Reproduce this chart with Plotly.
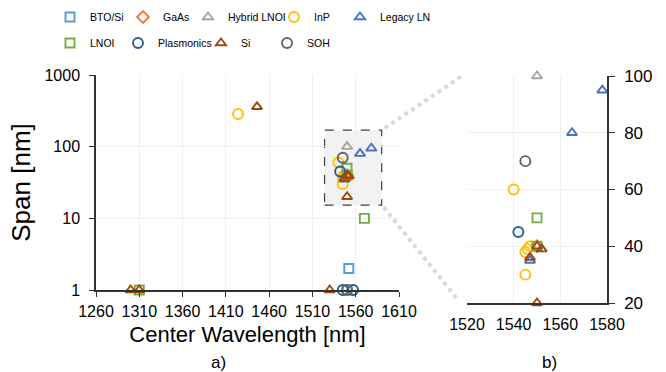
import math
import plotly.graph_objects as go

# ---------------- data ----------------
SERIES = ["BTO/Si", "GaAs", "Hybrid LNOI", "InP", "Legacy LN",
          "LNOI", "Plasmonics", "Si", "SOH"]
LEGEND_OF = ["legend", "legend", "legend", "legend", "legend3",
             "legend2", "legend2", "legend2", "legend2"]

bto_x = [1552]
bto_y = [2]
gaas_x = [1550]
gaas_y = [40]
hyb_x = [1550]
hyb_y = [100]
inp_x = [1424, 1540, 1547, 1545, 1546, 1545]
inp_y = [285, 60, 40, 38, 39, 30]
leg_x = [1578, 1565, 1547]
leg_y = [95, 80, 35]
lnoi_x = [1310, 1550, 1570, 1550, 1550]
lnoi_y = [1, 1, 10, 50, 40]
plas_x = [1545, 1557, 1542]
plas_y = [1, 1, 45]
si_x = [1300, 1310, 1446, 1530, 1550, 1552, 1547, 1550]
si_y = [1, 1, 360, 1, 40, 39, 36, 20]
soh_x = [1550, 1545]
soh_y = [1, 70]

DATA_X = [bto_x, gaas_x, hyb_x, inp_x, leg_x, lnoi_x, plas_x, si_x, soh_x]
DATA_Y = [bto_y, gaas_y, hyb_y, inp_y, leg_y, lnoi_y, plas_y, si_y, soh_y]

XTICKS_A = [1260, 1310, 1360, 1410, 1460, 1510, 1560, 1610]
YTICKS_A = [1, 10, 100, 1000]
XTICKS_B = [1520, 1540, 1560, 1580]
YTICKS_B = [20, 40, 60, 80, 100]
ZOOM_X = [1524, 1590]
ZOOM_Y = [15.3, 170]

# ---------------- styles ----------------
COLORS = ["#5B9BD5", "#ED7D31", "#A5A5A5", "#FFC000", "#4472C4",
          "#70AD47", "#255E91", "#9E480E", "#636363"]
SYMBOLS = ["square-open", "diamond-open", "triangle-up-open", "circle-open",
           "triangle-up-open", "square-open", "circle-open", "triangle-up-open",
           "circle-open"]
SIZES = [9, 9, 9, 10, 9, 9, 10, 9, 10]
# legend entry text widths (px) -> sets column pitch of the two legend rows
LEG_W = [28, 20, 41, 30, 60, 23, 38, 21, 25]

FONT = "Liberation Sans, Arial, sans-serif"
AX = "#333333"
GRID = "#f0f0f0"

W, H = 666, 372
ML, MR, MT, MB = 40, 59, 75, 69
PW, PH = W - ML - MR, H - MT - MB

xdomA = [(96 - ML) / PW, (399 - ML) / PW]
ydomA = [13 / PH, 1.0]
xdomB = [(467 - ML) / PW, 1.0]
ydomB = [0, 227 / PH]

fig = go.Figure()
for i, name in enumerate(SERIES):
    mk = dict(symbol=SYMBOLS[i], size=SIZES[i], color=COLORS[i],
              line=dict(width=1.9, color=COLORS[i]))
    fig.add_trace(go.Scatter(
        x=DATA_X[i], y=DATA_Y[i], mode="markers", name=name, marker=mk,
        xaxis="x", yaxis="y", cliponaxis=False, legendwidth=LEG_W[i],
        legend=LEGEND_OF[i], hoverinfo="x+y+name"))
for i, name in enumerate(SERIES):
    mk = dict(symbol=SYMBOLS[i], size=SIZES[i], color=COLORS[i],
              line=dict(width=1.9, color=COLORS[i]))
    xs, ys = [], []
    for a, b in zip(DATA_X[i], DATA_Y[i]):
        if XTICKS_B[0] <= a <= XTICKS_B[-1] and YTICKS_B[0] <= b <= YTICKS_B[-1]:
            xs.append(a)
            ys.append(b)
    fig.add_trace(go.Scatter(
        x=xs, y=ys, mode="markers", name=name, marker=mk, showlegend=False,
        xaxis="x2", yaxis="y2", cliponaxis=False, hoverinfo="x+y+name"))

tick_font = dict(family=FONT, size=16, color="#000")


# paper coordinates helpers for connector lines
def px_a(v):
    return xdomA[0] + (v - XTICKS_A[0]) / (XTICKS_A[-1] - XTICKS_A[0]) * (xdomA[1] - xdomA[0])


def py_a(v):
    return ydomA[0] + math.log10(v) / 3 * (ydomA[1] - ydomA[0])


def px_b(v):
    return xdomB[0] + (v - XTICKS_B[0]) / (XTICKS_B[-1] - XTICKS_B[0]) * (xdomB[1] - xdomB[0])


def py_b(v):
    return ydomB[0] + (v - YTICKS_B[0]) / (YTICKS_B[-1] - YTICKS_B[0]) * (ydomB[1] - ydomB[0])


shapes = [
    dict(type="rect", xref="x", yref="y", x0=ZOOM_X[0], x1=ZOOM_X[1],
         y0=ZOOM_Y[0], y1=ZOOM_Y[1], fillcolor="#f2f2f2",
         line=dict(color="#404040", width=1.2, dash="dash"), layer="below"),
    dict(type="line", xref="paper", yref="paper",
         x0=px_a(ZOOM_X[1]) + 3 / PW, y0=py_a(ZOOM_Y[1]) + 2 / PH,
         x1=px_b(XTICKS_B[0]) - 5 / PW, y1=py_b(YTICKS_B[-1]),
         line=dict(color="#d9d9d9", width=4, dash="dot")),
    dict(type="line", xref="paper", yref="paper",
         x0=px_a(ZOOM_X[1]) + 2 / PW, y0=py_a(ZOOM_Y[0]) - 2 / PH,
         x1=px_b(XTICKS_B[0]) - 9 / PW, y1=py_b(YTICKS_B[0]) + 3 / PH,
         line=dict(color="#d9d9d9", width=4, dash="dot")),
]

LEG_X0 = 50       # left edge of legend rows, px
LEG3_X0 = 340     # left edge of the "Legacy LN" entry, px
legend_common = dict(orientation="h", xanchor="left", yanchor="middle",
                     font=dict(family=FONT, size=10.5, color="#000"),
                     bgcolor="rgba(0,0,0,0)", borderwidth=0)

fig.update_layout(
    width=W, height=H,
    margin=dict(l=ML, r=MR, t=MT, b=MB, autoexpand=False),
    paper_bgcolor="white", plot_bgcolor="rgba(0,0,0,0)",
    font=dict(family=FONT, color="#000"),
    showlegend=True,
    legend=dict(legend_common, x=(LEG_X0 - ML) / PW, y=(PH + MT - 17) / PH),
    legend2=dict(legend_common, x=(LEG_X0 - ML) / PW, y=(PH + MT - 43) / PH),
    legend3=dict(legend_common, x=(LEG3_X0 - ML) / PW, y=(PH + MT - 17) / PH),
    xaxis=dict(domain=xdomA, anchor="y", range=[XTICKS_A[0], XTICKS_A[-1]],
               tickvals=XTICKS_A, ticks="outside", ticklen=5, tickwidth=1.3,
               tickcolor=AX, showline=True, linecolor=AX, linewidth=1.5,
               showgrid=True, gridcolor=GRID, zeroline=False, tickfont=tick_font,
               ticklabelstandoff=1,
               title=dict(text="Center Wavelength [nm]",
                          font=dict(family=FONT, size=22, color="#000"), standoff=8)),
    yaxis=dict(domain=ydomA, anchor="x", type="log", range=[0, 3],
               tickvals=YTICKS_A, ticktext=[str(v) for v in YTICKS_A],
               ticks="outside", ticklen=5, tickwidth=1.3, tickcolor=AX,
               showline=True, linecolor=AX, linewidth=1.5, showgrid=True,
               gridcolor=GRID, zeroline=False, tickfont=tick_font,
               ticklabelstandoff=6,
               title=dict(text="Span [nm]",
                          font=dict(family=FONT, size=26, color="#000"), standoff=6)),
    xaxis3=dict(overlaying="x", anchor="y", range=[XTICKS_A[0], XTICKS_A[-1]],
                tickvals=XTICKS_A, ticks="inside", ticklen=5, tickwidth=1.3,
                tickcolor=AX, showticklabels=False, showgrid=False,
                showline=False, zeroline=False),
    yaxis3=dict(overlaying="y", anchor="x", type="log", range=[0, 3],
                tickvals=YTICKS_A, ticks="inside", ticklen=5, tickwidth=1.3,
                tickcolor=AX, showticklabels=False, showgrid=False,
                showline=False, zeroline=False),
    xaxis2=dict(domain=xdomB, anchor="y2", range=[XTICKS_B[0], XTICKS_B[-1]],
                tickvals=XTICKS_B, ticks="", showline=True, linecolor=AX,
                linewidth=1.5, showgrid=True, gridcolor=GRID, zeroline=False,
                tickfont=tick_font, ticklabelstandoff=6),
    yaxis2=dict(domain=ydomB, anchor="x2", side="right",
                range=[YTICKS_B[0], YTICKS_B[-1]], tickvals=YTICKS_B,
                ticks="outside", ticklen=6, tickwidth=1.3, tickcolor=AX,
                showline=True, linecolor=AX, linewidth=1.5, showgrid=True,
                gridcolor=GRID, zeroline=False,
                tickfont=dict(family=FONT, size=17, color="#000"),
                ticklabelstandoff=6),
    yaxis4=dict(overlaying="y2", anchor="x2", side="right",
                range=[YTICKS_B[0], YTICKS_B[-1]], tickvals=YTICKS_B,
                ticks="inside", ticklen=4, tickwidth=1.3, tickcolor=AX,
                showticklabels=False, showgrid=False, showline=False,
                zeroline=False),
    shapes=shapes,
    annotations=[
        dict(text="a)", xref="paper", yref="paper", x=(218 - ML) / PW,
             y=(PH + MT - 362) / PH, xanchor="center", yanchor="middle",
             showarrow=False, font=dict(family=FONT, size=17, color="#000")),
        dict(text="b)", xref="paper", yref="paper", x=(549 - ML) / PW,
             y=(PH + MT - 362) / PH, xanchor="center", yanchor="middle",
             showarrow=False, font=dict(family=FONT, size=17, color="#000")),
    ],
)

fig.write_html("out.html")
